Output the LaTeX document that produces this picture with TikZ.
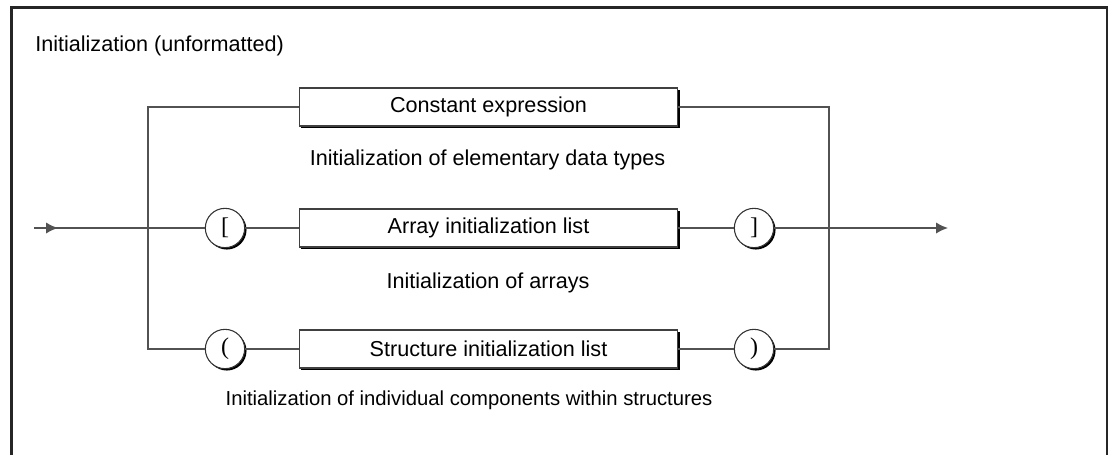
\documentclass[tikz,border=0pt]{standalone}
\usepackage{fontspec}
\setmainfont{Liberation Sans}
\newfontfamily\brfont{Liberation Serif}
\usetikzlibrary{arrows.meta,shadows}
\begin{document}
\begin{tikzpicture}[x=0.75pt,y=-0.75pt,
  lbl/.style={font=\fontsize{16.2}{19}\selectfont, inner sep=0pt, anchor=base},
  conn/.style={draw=black!68, line width=1.1pt},
  termbox/.style={draw=black!75, line width=0.8pt, fill=white, minimum width=284pt, minimum height=28.5pt, inner sep=0pt,
     font=\fontsize{16.2}{19}\selectfont,
     general shadow={shadow xshift=1.6pt, shadow yshift=-1.6pt, fill=black}},
  tok/.style={circle, draw=black!80, line width=0.8pt, fill=white, minimum size=29.5pt, inner sep=0pt,
     font=\brfont\fontsize{18}{20}\selectfont,
     general shadow={shadow xshift=1.4pt, shadow yshift=-1.4pt, fill=black}},
  tip/.style={-{Latex[length=9pt,width=8.5pt]}}
  ]
\useasboundingbox (0,0) rectangle (1112,455);
% frame (open at bottom)
\draw[line width=1.6pt, black!85] (11.5,455) -- (11.5,7.5) -- (1107,7.5) -- (1107,455);
\node[lbl, anchor=base west] (title) at (35,51) {Initialization (unformatted)};

% elements
\node[termbox] (ce) at (488.5,107) {Constant expression};
\node[lbl] (t1) at (487.5,165) {Initialization of elementary data types};
\node[tok] (lb) at (225,228) {[};
\node[termbox] (ail) at (488.5,228) {Array initialization list};
\node[tok] (rb) at (754,228) {]};
\node[lbl] (t2) at (488,288) {Initialization of arrays};
\node[tok] (lp) at (225,349) {(};
\node[termbox] (sil) at (488.5,349) {Structure initialization list};
\node[tok] (rp) at (754,349) {)};
\node[lbl, font=\fontsize{15.2}{18}\selectfont] (t3) at (469,405) {Initialization of individual components within structures};

% coordinates
\coordinate (start) at (34,228);
\coordinate (atip) at (58,228);
\coordinate (L1) at (148,107);
\coordinate (L3) at (148,349);
\coordinate (R1) at (829,107);
\coordinate (R3) at (829,349);
\coordinate (end) at (948,228);

% connectors
\draw[conn] (start) -- (lb.west);
\draw[conn, tip] (start) -- (atip);
\draw[conn] (ce.west) -- (L1) -- (L3) -- (lp.west);
\draw[conn] (lb.east) -- (ail.west);
\draw[conn] (lp.east) -- (sil.west);
\draw[conn] (ail.east) -- (rb.west);
\draw[conn] (sil.east) -- (rp.west);
\draw[conn] (ce.east) -- (R1) -- (R3) -- (rp.east);
\draw[conn, tip] (rb.east) -- (end);
\end{tikzpicture}
\end{document}
